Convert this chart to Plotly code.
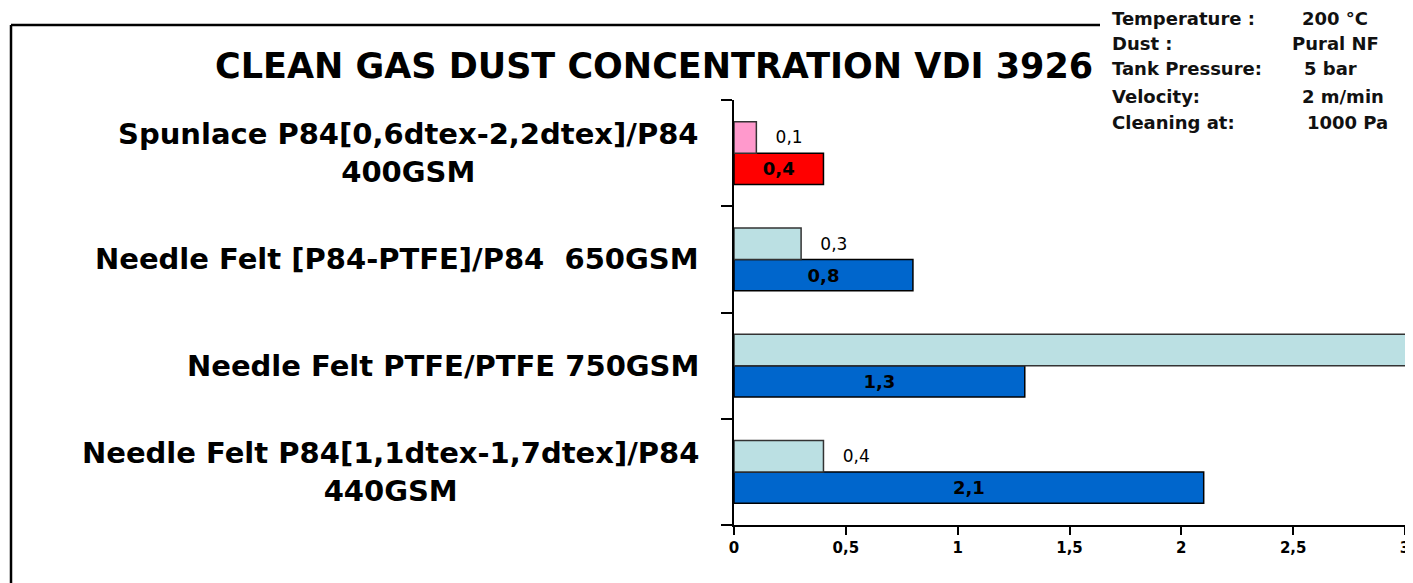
import plotly.graph_objects as go

# ---------------- data ----------------
categories = [
    "Needle Felt P84[1,1dtex-1,7dtex]/P84<br>440GSM",
    "Needle Felt PTFE/PTFE 750GSM",
    "Needle Felt [P84-PTFE]/P84  650GSM",
    "Spunlace P84[0,6dtex-2,2dtex]/P84<br>400GSM",
]
main_values = [2.1, 1.3, 0.8, 0.4]          # dark bars (labelled inside)
second_values = [0.4, 3.5, 0.3, 0.1]        # light bars (PTFE/PTFE runs off the scale)
main_colors = ["#0066CC", "#0066CC", "#0066CC", "#FF0000"]
second_colors = ["#BBE0E3", "#BBE0E3", "#BBE0E3", "#FF99CC"]
x_ticks = [0, 0.5, 1, 1.5, 2, 2.5, 3]
x_tick_labels = ["0", "0,5", "1", "1,5", "2", "2,5", "3"]
title_text = "CLEAN GAS DUST CONCENTRATION VDI 3926"
info_labels = ["Temperature :", "Dust :", "Tank Pressure:", "Velocity:", "Cleaning at:"]
info_values = ["200 °C", "Pural NF", "5 bar", "2 m/min", "1000 Pa"]

# ---------------- layout geometry (screen pixels) ----------------
W, H = 1413, 583
OFF = 8                       # page body margin
FIG_W, FIG_H = W - OFF, H - OFF
L, R, T, B = 734, 1405, 100, 525


def px(xp):
    return (xp - L) / (R - L)


def py(yp):
    return (B - yp) / (B - T)


def fmt(v):
    return f"{v:.1f}".replace(".", ",")


XMAX = 3
main_text = [fmt(v) for v in main_values]
second_text = ["   " + fmt(v) if v <= XMAX else "" for v in second_values]

fig = go.Figure()
fig.add_trace(go.Bar(
    y=categories, x=main_values, orientation="h",
    marker=dict(color=main_colors, line=dict(color="black", width=1.5)),
    text=main_text, textposition="inside", insidetextanchor="middle",
    textfont=dict(family="DejaVu Sans", size=18, color="black", weight="bold"),
    showlegend=False, hoverinfo="skip",
))
fig.add_trace(go.Bar(
    y=categories, x=second_values, orientation="h",
    marker=dict(color=second_colors, line=dict(color="#333", width=1.5)),
    text=second_text, textposition="outside",
    textfont=dict(family="DejaVu Sans", size=17, color="black"),
    cliponaxis=True,
    showlegend=False, hoverinfo="skip",
))

annotations = []
# category labels
label_font = dict(family="DejaVu Sans", size=29, color="black", weight="bold")
for i, c in enumerate(categories):
    annotations.append(dict(
        x=px(701), xref="paper", y=i, yref="y", text=c, showarrow=False,
        xanchor="right", yanchor="middle", align="center", font=label_font,
    ))
# title
annotations.append(dict(
    x=px(654), xref="paper", y=py(66), yref="paper", text=title_text,
    showarrow=False, xanchor="center", yanchor="middle",
    font=dict(family="DejaVu Sans", size=35, color="black", weight="bold"),
))
# info box
info_y = [18, 43, 68, 97, 123]
info_val_x = [1300, 1290, 1302, 1300, 1305]
info_font = dict(family="DejaVu Sans", size=18, color="#111", weight="bold")
for lab, val, yy, vx in zip(info_labels, info_values, info_y, info_val_x):
    annotations.append(dict(
        x=px(1110), xref="paper", y=py(yy), yref="paper", text=lab, showarrow=False,
        xanchor="left", yanchor="middle", font=info_font,
    ))
    annotations.append(dict(
        x=px(vx), xref="paper", y=py(yy), yref="paper", text=val, showarrow=False,
        xanchor="left", yanchor="middle", font=info_font,
    ))

shapes = [
    # outer frame (left and top edges)
    dict(type="line", xref="paper", yref="paper", x0=px(11), x1=px(11),
         y0=py(25), y1=py(600), line=dict(color="black", width=2.5)),
    dict(type="line", xref="paper", yref="paper", x0=px(11), x1=px(1100),
         y0=py(25), y1=py(25), line=dict(color="black", width=2.5)),
]

fig.update_layout(
    width=FIG_W, height=FIG_H,
    margin=dict(l=L - OFF, r=OFF + FIG_W - R, t=T - OFF, b=OFF + FIG_H - B, pad=0,
                autoexpand=False),
    paper_bgcolor="white", plot_bgcolor="white",
    barmode="group", bargap=0.41, bargroupgap=0,
    separators=",.",
    annotations=annotations, shapes=shapes,
    xaxis=dict(
        range=[0, XMAX], tickvals=x_ticks, ticktext=x_tick_labels, automargin=False,
        showgrid=False, zeroline=False, showline=True, linecolor="black", linewidth=2,
        ticks="outside", ticklen=8, tickcolor="black", tickwidth=2,
        tickfont=dict(family="DejaVu Sans", size=15, color="black", weight="bold"),
    ),
    yaxis=dict(
        type="category", categoryorder="array", categoryarray=categories,
        showticklabels=False, showgrid=False, zeroline=False, automargin=False,
        showline=True, linecolor="black", linewidth=2,
        ticks="outside", tickson="boundaries", ticklen=11, tickcolor="black", tickwidth=2,
    ),
)

fig.write_html("out.html")
